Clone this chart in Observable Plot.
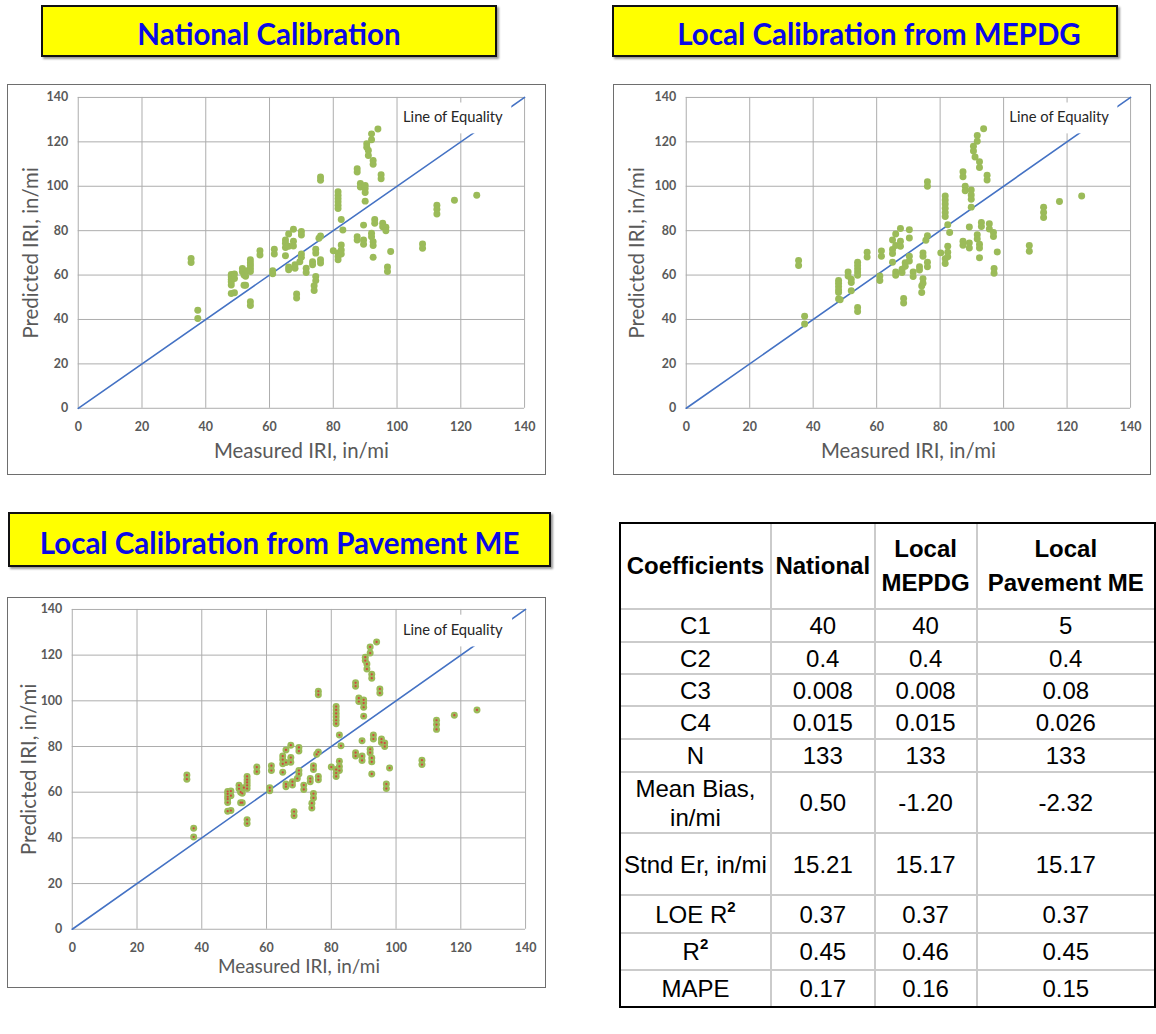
<!DOCTYPE html>
<html>
<head>
<meta charset="utf-8">
<script src="https://cdn.jsdelivr.net/npm/d3@7"></script>
<script src="https://cdn.jsdelivr.net/npm/@observablehq/plot@0.6"></script>
<style>
  html, body { margin: 0; padding: 0; background: #fff; }
  body { position: relative; width: 1156px; height: 1034px; overflow: hidden; }
  .title-box {
    position: absolute; box-sizing: border-box; background: #ffff00;
    border: 2px solid #111; box-shadow: 2px 2px 2px #9a9a9a;
    display: flex; align-items: center; justify-content: center;
    font-family: Lato, "Open Sans", sans-serif; font-weight: 700; font-size: 29.5px;
    color: #0a0ae6; padding-top: 5px; white-space: nowrap;
  }
  .chart-frame { position: absolute; box-sizing: border-box; border: 1px solid #6e6e6e; background: #fff; }
  .chart-frame svg { position: absolute; left: -1px; top: -1px; }
  table.stats {
    position: absolute; left: 619px; top: 522px; border-collapse: separate; border-spacing: 0;
    border: 2px solid #000; table-layout: fixed; font-family: "Liberation Sans", Arial, sans-serif;
    font-size: 24px; color: #000; background: #fff;
  }
  table.stats td, table.stats th {
    padding: 0; text-align: center; vertical-align: middle; white-space: nowrap;
    border-right: 2px solid #cbcbcb; border-bottom: 2px solid #cbcbcb; line-height: 29px;
  }
  table.stats th { font-weight: 700; line-height: 34px; }
  table.stats tr > :last-child { border-right: none; }
  table.stats tr:last-child > * { border-bottom: none; }
  table.stats sup { font-size: 15px; font-weight: 700; vertical-align: 11px; line-height: 0; }
</style>
</head>
<body>
<script>
// Panel titles
const panelTitles = ["National Calibration", "Local Calibration from MEPDG", "Local Calibration from Pavement ME"];

// Shared axis ticks (in/mi) and the 1:1 reference line
const axisTicks = [0, 20, 40, 60, 80, 100, 120, 140];
const equalityLine = [0, 140];
const xTitle = "Measured IRI, in/mi";
const yTitle = "Predicted IRI, in/mi";

// [measured IRI, predicted IRI] with national coefficients
const nationalPoints = [
  [35.4,67.5],[35.4,65.7],[37.5,44.2],[37.5,40.4],
  [48,60.3],[48,59.3],[48,58],[48,57],[48,55.5],[48,51.7],[49,60.5],[49,58.5],[49,52],
  [51.5,63],[51.5,61.5],[52,60],[52.5,59.5],[52.5,55.4],[53,62],[52,55.4],
  [54,66.9],[54,65.5],[54,64.3],[54,63],[54,61.6],[54,48],[54,46.3],
  [57,71],[57,69],[61,62],[61,60.6],[61.5,71.6],[61.5,69.5],
  [65,75.8],[65,74.3],[65,72.4],[65,68.7],[66,78.5],[66,73],[66,63.6],[66,62.4],
  [67.5,80.6],[67.5,75.2],[67.5,73.1],[68.5,51.5],[68.5,49.7],[68,64.6],[68,63.1],[69.5,66],
  [70,79.6],[70,78],[70,69.5],[70,68],[71.5,63.1],[71.5,61.2],[73.5,66],[73.5,64.6],
  [74,55.2],[74,53.1],[74.5,71.6],[74.5,69.9],[74.5,59.4],[74.5,57.5],[75.5,76.6],
  [76,104.2],[76,102.7],[76,77.6],[76,66.9],[76,65.4],[80,71],
  [81.5,97.5],[81.5,96],[81.5,94.5],[81.5,93],[81.5,91.5],[81.5,90],[81.5,69.9],[81.5,68.4],[81.5,66.9],
  [82.5,85],[82.5,73.6],[82.5,71.3],[82.5,69.5],[83,80.3],
  [87.5,107.9],[87.5,106.4],[87.5,77.3],[87.5,75.8],[88.5,101.2],[88.5,99.7],
  [89.5,82.5],[89.5,75.8],[89.5,73.9],[90,100.4],[90,99],[90,97.2],[90,93.3],
  [90.5,119.1],[90.5,117.6],[91,116.1],[91,113.9],[92,123.6],[92,120.9],[92,78.8],[92,77.3],
  [92.5,111.6],[92.5,109.9],[92.5,75],[92.5,73.3],[92.5,68],[93,85],[93,83.3],[94,125.8],
  [95,105.2],[95,103.4],[95.5,83.3],[95.5,81.8],[96.5,81.5],[96.5,80],[97,63.6],[97,61.6],[98,70.6],
  [108,74],[108,72.1],[112.5,91.5],[112.5,89.6],[112.5,87.5],[118,93.7],[125,96]
];

// [measured IRI, predicted IRI] with the local MEPDG calibration
const mepdgPoints = [
  [35.4,66.6],[35.4,64.3],[37.3,41.4],[37.3,38],
  [48,57.6],[48,56.3],[48,54.8],[48,53.3],[48,52.1],[48,49.2],[48.5,48.9],
  [51,61.4],[51,59.6],[52,58.1],[52,56.6],[52,52.9],
  [54,65.8],[54,64.3],[54,62.9],[54,61.4],[54,59.9],[54,45.4],[54,43.6],
  [57,70.3],[57,68.1],[61,59.6],[61,57.6],[61.5,70.9],[61.5,68.5],
  [65,75.8],[65,71.5],[65,69.7],[65,65.8],[66,78.5],[66,73.3],[66,61.4],[66,59.9],
  [67.5,81],[67.5,75.2],[67.5,73],[68,62.6],[68,61.1],[68.5,49.5],[68.5,47.4],[69,65.5],[69,64],
  [70.3,80.4],[70.3,76.7],[70.3,68.5],[70.3,66.3],[71.5,61.4],[71.5,59.3],[73.5,63.7],[73.5,62.3],
  [74.2,55.1],[74.2,52.1],[74.6,70],[74.6,68.5],[74.6,58.4],[74.6,56.3],[75.5,75.7],
  [76,102],[76,100],[76,77.7],[76,65.8],[76,63.7],[80.2,70],
  [81.6,95.6],[81.6,93.8],[81.6,92],[81.6,90.1],[81.6,88.2],[81.6,86.4],[81.6,67.3],[81.6,65.2],
  [82.4,82.7],[82.4,73],[82.4,70.3],[82.4,68.2],[83,79.2],
  [87.2,106.5],[87.2,104.3],[87.2,75.2],[87.2,73.4],[87.9,100],[87.9,98],
  [89.2,81.6],[89.2,74.5],[89.2,72.2],[89.8,98.3],[89.8,96.1],[89.8,94.1],[89.8,90.6],
  [90.5,118],[90.5,115.9],[91,113.2],[91.7,122.9],[91.7,120.3],[91.7,78.2],[91.7,76.3],
  [92.4,111],[92.4,108.4],[92.4,73.9],[92.4,72.2],[92.4,67.8],[93,83.7],[93,81.9],[93.7,125.9],
  [94.8,105],[94.8,102.8],[95.5,83.1],[95.5,80.7],[96.8,79.2],[96.8,77.4],[97,63],[97,60.8],[98,70.4],
  [108.1,73.3],[108.1,70.7],[112.6,90.6],[112.6,88.2],[112.6,85.9],[117.6,93.1],[124.6,95.6]
];

// The Pavement ME panel plots the same measured/predicted pairs as the national panel
const pavementMEPoints = nationalPoints;

// Statistics table
const statHeaders = ["Coefficients", "National", "Local<br>MEPDG", "Local<br>Pavement ME"];
const statRows = ["C1", "C2", "C3", "C4", "N", "Mean Bias,<br>in/mi", "Stnd Er, in/mi", "LOE R<sup>2</sup>", "R<sup>2</sup>", "MAPE"];
const nationalStats = ["40", "0.4", "0.008", "0.015", "133", "0.50", "15.21", "0.37", "0.45", "0.17"];
const mepdgStats = ["40", "0.4", "0.008", "0.015", "133", "-1.20", "15.17", "0.37", "0.46", "0.16"];
const pavementMEStats = ["5", "0.4", "0.08", "0.026", "133", "-2.32", "15.17", "0.37", "0.45", "0.15"];

// Position of the "Line of Equality" label and its white backing box, in data units
const equalityLabel = [{x1: 101.5, x2: 136, y1: 123.6, y2: 137.5, tx: 117.5, ty: 131, text: "Line of Equality"}];

function scatter(points, {width, height, ml, mr, mt, mb, yTitleX, xTitleDy, titleSize, redCenters}) {
  return Plot.plot({
    width, height,
    marginLeft: ml, marginRight: mr, marginTop: mt, marginBottom: mb,
    x: {domain: [0, 140], label: null},
    y: {domain: [0, 140], label: null},
    style: {fontFamily: "Lato, sans-serif", color: "#595959", background: "transparent", overflow: "visible"},
    marks: [
      Plot.gridX(axisTicks, {stroke: "#adadad", strokeOpacity: 1, strokeWidth: 1}),
      Plot.gridY(axisTicks, {stroke: "#adadad", strokeOpacity: 1, strokeWidth: 1}),
      Plot.line(equalityLine, {x: d => d, y: d => d, stroke: "#4472c4", strokeWidth: 1.6}),
      Plot.rect(equalityLabel, {x1: "x1", x2: "x2", y1: "y1", y2: "y2", fill: "white"}),
      Plot.text(equalityLabel, {x: "tx", y: "ty", text: "text", fill: "#262626", fontSize: 14.8, fontFamily: "Lato, sans-serif"}),
      Plot.dot(points, {x: d => d[0], y: d => d[1], r: 3.5, fill: "#9bbb59"}),
      ...(redCenters ? [Plot.dot(points, {x: d => d[0], y: d => d[1], r: 1.1, fill: "#d0473f"})] : []),
      Plot.axisX(axisTicks, {tickSize: 0, tickPadding: 14, fontSize: 12.5, fontWeight: "bold", fill: "#595959", label: null}),
      Plot.axisY(axisTicks, {tickSize: 0, tickPadding: 10, fontSize: 12.5, fontWeight: "bold", fill: "#595959", label: null}),
      Plot.text([xTitle], {frameAnchor: "bottom", textAnchor: "middle", lineAnchor: "middle", dy: xTitleDy, text: d => d, fontSize: titleSize, fill: "#595959"}),
      Plot.text([yTitle], {frameAnchor: "left", textAnchor: "middle", lineAnchor: "middle", rotate: -90, dx: yTitleX - ml, text: d => d, fontSize: 20.5, fill: "#595959"})
    ]
  });
}

function addTitle(text, left, top, width, height, shift = 0) {
  const div = document.createElement("div");
  div.className = "title-box";
  Object.assign(div.style, {left: left + "px", top: top + "px", width: width + "px", height: height + "px", paddingLeft: shift + "px"});
  div.textContent = text;
  document.body.appendChild(div);
}

function addChart(svg, left, top, width, height) {
  const frame = document.createElement("div");
  frame.className = "chart-frame";
  Object.assign(frame.style, {left: left + "px", top: top + "px", width: width + "px", height: height + "px"});
  frame.appendChild(svg);
  document.body.appendChild(frame);
}

addTitle(panelTitles[0], 41, 5, 456, 52);
addTitle(panelTitles[1], 612, 5, 506, 52, 28);
addTitle(panelTitles[2], 8, 512, 543, 55);

addChart(scatter(nationalPoints, {width: 539, height: 391, ml: 71, mr: 20, mt: 13, mb: 66, yTitleX: 24, xTitleDy: 43, titleSize: 20.5}), 7, 84, 539, 391);
addChart(scatter(mepdgPoints, {width: 538, height: 391, ml: 73, mr: 19, mt: 13, mb: 66, yTitleX: 24, xTitleDy: 43, titleSize: 20.5}), 613, 84, 538, 391);
addChart(scatter(pavementMEPoints, {width: 539, height: 391, ml: 65, mr: 19, mt: 12, mb: 58, yTitleX: 22, xTitleDy: 38, titleSize: 19, redCenters: true}), 7, 597, 539, 391);

// Statistics table
const table = document.createElement("table");
table.className = "stats";
const colWidths = [152, 105, 104, 180];
const rowHeights = [33, 32, 32, 33, 33, 61, 62, 38, 37, 35];
let html = "<colgroup>" + colWidths.map(w => `<col style="width:${w}px">`).join("") + "</colgroup>";
html += `<tr style="height:86px">` + statHeaders.map(h => `<th>${h}</th>`).join("") + "</tr>";
statRows.forEach((r, i) => {
  html += `<tr style="height:${rowHeights[i]}px"><td>${r}</td><td>${nationalStats[i]}</td><td>${mepdgStats[i]}</td><td>${pavementMEStats[i]}</td></tr>`;
});
table.innerHTML = html;
document.body.appendChild(table);
</script>
</body>
</html>
